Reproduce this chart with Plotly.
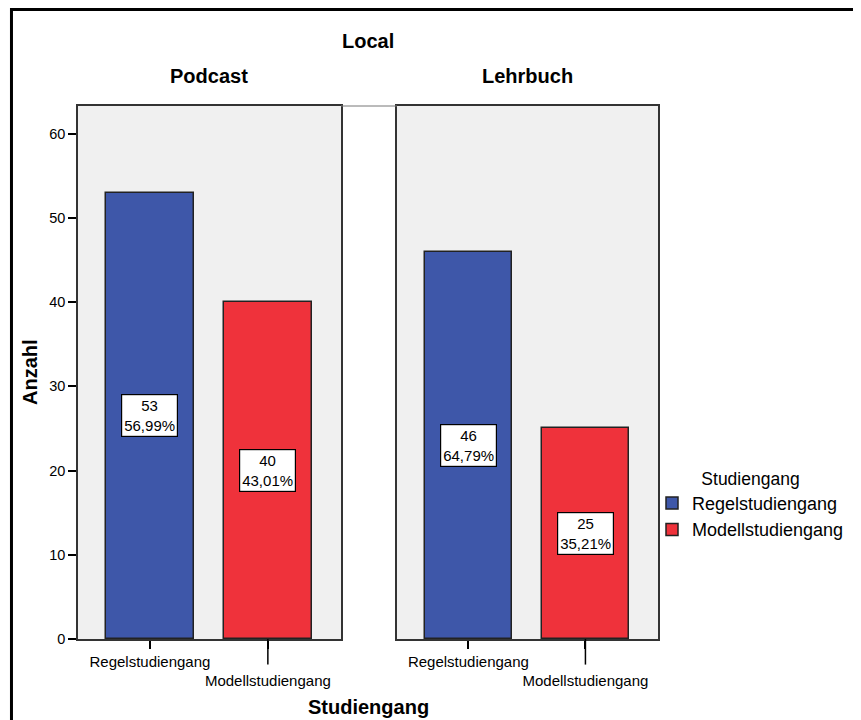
import plotly.graph_objects as go

categories = ["Regelstudiengang", "Modellstudiengang"]
panels = ["Podcast", "Lehrbuch"]
counts = {"Podcast": [53, 40], "Lehrbuch": [46, 25]}
percents = {"Podcast": ["56,99%", "43,01%"], "Lehrbuch": ["64,79%", "35,21%"]}
tick_labels = ["Regelstudiengang", "<br>Modellstudiengang"]
y_ticks = [0, 10, 20, 30, 40, 50, 60]

colors = ["#3E57A9", "#EF323B"]
FONT = "Liberation Sans, Arial, Helvetica, sans-serif"

fig = go.Figure()
axes = [("x", "y"), ("x2", "y2")]
for pi, panel in enumerate(panels):
    xa, ya = axes[pi]
    for ci, cat in enumerate(categories):
        fig.add_trace(go.Bar(
            x=[cat], y=[counts[panel][ci]], name=cat,
            marker=dict(color=colors[ci], line=dict(color="#222222", width=1.5)),
            width=0.746, xaxis=xa, yaxis=ya,
            showlegend=(pi == 0), legendgroup=cat,
        ))
        fig.add_annotation(
            x=cat, y=counts[panel][ci] / 2, xref=xa, yref=ya,
            text=f"{counts[panel][ci]}<br>{percents[panel][ci]}",
            showarrow=False, bgcolor="white", bordercolor="black", borderwidth=1.2,
            borderpad=2, font=dict(family=FONT, size=15, color="black"),
        )
    # long tick for staggered label
    fig.add_shape(type="line", xref=xa, yref=ya + " domain",
                  x0=categories[1], x1=categories[1], y0=0, y1=-0.048,
                  line=dict(color="black", width=1.5), layer="above")

xcommon = dict(type="category", categoryorder="array", categoryarray=categories,
               range=[-0.61, 1.62], tickvals=categories, ticktext=tick_labels,
               tickangle=0, automargin=False,
               ticks="outside", ticklen=8, tickwidth=1.5, tickcolor="black",
               showline=True, linecolor="#333333", linewidth=1.5, mirror=True,
               showgrid=False, zeroline=False,
               tickfont=dict(family=FONT, size=15, color="black"))
fig.update_layout(
    xaxis=dict(domain=[0, 0.4534], anchor="y", **xcommon),
    xaxis2=dict(domain=[0.55, 1], anchor="y2", **xcommon),
    yaxis=dict(range=[0, 63.3], tickvals=y_ticks, ticks="outside", ticklen=8,
               tickwidth=1.5, tickcolor="black", showline=True, linecolor="#333333",
               linewidth=1.5, mirror=True, showgrid=False, zeroline=False, automargin=False,
               tickfont=dict(family=FONT, size=14.5, color="black")),
    yaxis2=dict(range=[0, 63.3], matches="y", anchor="x2", showticklabels=False, ticks="",
                showline=True, linecolor="#333333", linewidth=1.5, mirror=True,
                showgrid=False, zeroline=False, automargin=False),
    width=853, height=712,
    margin=dict(l=70, r=203, t=98, b=81, autoexpand=False),
    plot_bgcolor="#F0F0F0", paper_bgcolor="white",
    bargap=0,
    font=dict(family=FONT, color="black"),
    legend=dict(x=(652 - 78) / 580, y=0.332, xanchor="left", yanchor="top",
                title=dict(text="Studiengang", font=dict(family=FONT, size=17.5, color="black"),
                           side="top center"),
                font=dict(family=FONT, size=18, color="black"),
                tracegroupgap=0, bgcolor="rgba(0,0,0,0)"),
)

# strip titles and axis titles
title_font = dict(family=FONT, size=20, color="black")
fig.add_annotation(text="<b>Local</b>", x=0.5, y=1.122, xref="paper", yref="paper",
                   xanchor="center", yanchor="middle", showarrow=False, font=title_font)
fig.add_annotation(text="<b>Podcast</b>", x=0.2267, y=1.056, xref="paper", yref="paper",
                   xanchor="center", yanchor="middle", showarrow=False, font=title_font)
fig.add_annotation(text="<b>Lehrbuch</b>", x=0.775, y=1.056, xref="paper", yref="paper",
                   xanchor="center", yanchor="middle", showarrow=False, font=title_font)
fig.add_annotation(text="<b>Studiengang</b>", x=0.5, y=-0.128, xref="paper", yref="paper",
                   xanchor="center", yanchor="middle", showarrow=False, font=title_font)
fig.add_annotation(text="<b>Anzahl</b>", x=(30 - 78) / 580, y=(639 - 372) / 533,
                   xref="paper", yref="paper", textangle=-90,
                   xanchor="center", yanchor="middle", showarrow=False, font=title_font)

# connecting line between panels
fig.add_shape(type="line", xref="paper", yref="paper", x0=0.4534, x1=0.55, y0=1, y1=1,
              line=dict(color="#777777", width=1))
# outer frame
fig.add_shape(type="rect", xref="paper", yref="paper", x0=-0.1147, x1=1.3466,
              y0=-0.2, y1=1.181, line=dict(color="black", width=3))

fig.write_html("out.html")
